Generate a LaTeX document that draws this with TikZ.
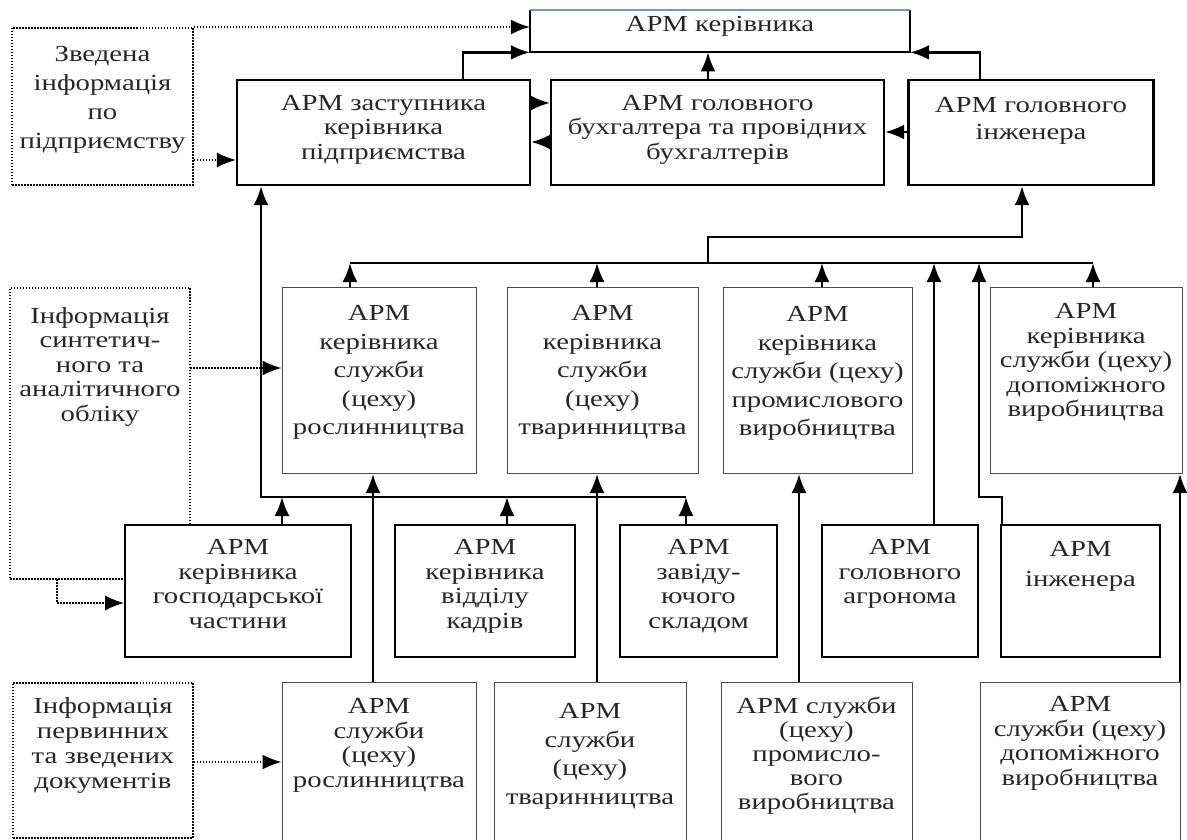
\documentclass[tikz,border=0pt]{standalone}
\usepackage{fontspec}
\setmainfont[FakeStretch=1.25]{Liberation Serif}
\usetikzlibrary{arrows.meta}

\tikzstyle{box}=[anchor=north, align=center, inner xsep=0pt, inner ysep=0pt, text=black!85]
\tikzstyle{chief}=[box, draw, line width=2.2pt]
\tikzstyle{head}=[box, draw=black!70, line width=1pt]
\tikzstyle{dept}=[box, draw, line width=1.8pt]
\tikzstyle{unit}=[box, draw=black!70, line width=1pt]
\tikzstyle{src}=[dash pattern=on 1.5pt off 1.5pt, line width=1.6pt]
\tikzstyle{loose}=[font=\fontsize{23}{28.5}\selectfont]
\tikzstyle{com}=[line width=2.4pt, -{Latex[length=19pt,width=15pt]}]
\tikzstyle{bus}=[line width=1.6pt]
\tikzstyle{feed}=[src, -{Latex[length=19pt,width=15pt]}]

\begin{document}
\begin{tikzpicture}[x=1pt, y=-1pt, every node/.style={font=\fontsize{23}{24.5}\selectfont}]
  \useasboundingbox (0,0) rectangle (1187,840);
  \clip (0,0) rectangle (1187,840);

  % top level
  \node[box, minimum width=380pt, text height=21pt, text depth=21pt] (ker) at (720,10) {АРМ керівника};
  \draw[line width=2.2pt] (ker.north west) -- (ker.south west) -- (ker.south east) -- (ker.north east);
  \draw[line width=1.2pt, color={rgb,255:red,120;green,150;blue,180}] (ker.north west) -- (ker.north east);

  \node[chief, minimum width=293pt, text height=79pt, text depth=26pt] (dep) at (383.5,79) {АРМ заступника\\керівника\\підприємства};
  \node[chief, minimum width=333pt, text height=79pt, text depth=26pt] (acc) at (717.5,79) {АРМ головного\\бухгалтера та провідних\\бухгалтерів};
  \node[chief, minimum width=245pt, text height=59pt, text depth=46pt, font=\fontsize{23}{27}\selectfont] (eng) at (1031,79) {АРМ головного\\інженера};

  % heads of services
  \node[head, loose, minimum width=194pt, text height=147pt, text depth=39pt] (s1) at (379,287) {АРМ\\керівника\\служби\\(цеху)\\рослинництва};
  \node[head, loose, minimum width=191pt, text height=147pt, text depth=39pt] (s2) at (602.5,287) {АРМ\\керівника\\служби\\(цеху)\\тваринництва};
  \node[head, loose, minimum width=189pt, text height=148pt, text depth=38pt] (s3) at (817.5,287) {АРМ\\керівника\\служби (цеху)\\промислового\\виробництва};
  \node[head, minimum width=192pt, text height=129pt, text depth=57pt] (s4) at (1086,287) {АРМ\\керівника\\служби (цеху)\\допоміжного\\виробництва};

  % departments
  \node[dept, minimum width=226pt, text height=103.5pt, text depth=28.5pt] (u1) at (238,524) {АРМ\\керівника\\господарської\\частини};
  \node[dept, minimum width=180pt, text height=103.5pt, text depth=28.5pt] (u2) at (485,524) {АРМ\\керівника\\відділу\\кадрів};
  \node[dept, minimum width=157pt, text height=103.5pt, text depth=28.5pt] (u3) at (698.5,524) {АРМ\\завіду-\\ючого\\складом};
  \node[dept, minimum width=156pt, text height=79pt, text depth=53pt] (u4) at (900,524) {АРМ\\головного\\агронома};
  \node[dept, minimum width=159pt, text height=62pt, text depth=70pt, font=\fontsize{23}{30}\selectfont] (u5) at (1080.5,524) {АРМ\\інженера};

  % services
  \node[unit, minimum width=194pt, text height=104.5pt, text depth=115.5pt] (w1) at (379,682) {АРМ\\служби\\(цеху)\\рослинництва};
  \node[unit, loose, minimum width=192pt, text height=121.5pt, text depth=98.5pt] (w2) at (590,682) {АРМ\\служби\\(цеху)\\тваринництва};
  \node[unit, minimum width=191pt, text height=127pt, text depth=93pt, font=\fontsize{23}{24}\selectfont] (w3) at (816.5,682) {АРМ служби\\(цеху)\\промисло-\\вого\\виробництва};
  \node[unit, minimum width=200pt, text height=102.5pt, text depth=117.5pt] (w4) at (1080,682) {АРМ\\служби (цеху)\\допоміжного\\виробництва};

  % information sources
  \node[box, src, draw, minimum width=181pt, text height=121pt, text depth=36pt, font=\fontsize{23}{29}\selectfont] (i1) at (102.5,27) {Зведена\\інформація\\по\\підприємству};
  \node[box, minimum width=180pt, text height=133pt, text depth=100pt] (i2) at (100,288) {Інформація\\синтетич-\\ного та\\аналітичного\\обліку};
  \draw[src] (u1.north -| i2.east) -- (i2.north east) -- (i2.north west) -- (i2.west |- 0,579) -- (u1.west |- 0,579);
  \node[box, src, draw, minimum width=180pt, text height=106pt, text depth=49pt, font=\fontsize{23}{25}\selectfont] (i3) at (103,682) {Інформація\\первинних\\та зведених\\документів};

  \draw[feed] (i1.north east) -- (i1.north east -| ker.west);
  \draw[feed] (i1.east |- 0,160) -- (dep.west |- 0,160);
  \draw[feed] (i2.east |- 0,368) -- (s1.west |- 0,368);
  \draw[feed] (57,579) |- (u1.west |- 0,603);
  \draw[feed] (i3.east |- 0,762) -- (w1.west |- 0,762);

  % to the top
  \draw[com] (dep.north -| 463,0) |- (ker.south west);
  \draw[com] (acc.north -| 708,0) -- (ker.south -| 708,0);
  \draw[com] (eng.north -| 980,0) |- (ker.south east);
  \draw[com] (dep.east |- 0,103) -- (acc.west |- 0,103);
  \draw[com] (acc.west |- 0,142) -- (dep.east |- 0,142);
  \draw[com] (eng.west |- 0,132) -- (acc.east |- 0,132);

  % upper bus
  \coordinate (upper) at (0,263);
  \coordinate (lower) at (0,497);
  \draw[bus] (upper -| 350,0) -- (upper -| 1093,0);
  \draw[com] (upper -| 708,0) |- (1022,237) -- (eng.south -| 1022,0);
  \draw[com] (s1.north -| 350,0) -- (upper -| 350,0);
  \draw[com] (s2.north -| 597,0) -- (upper -| 597,0);
  \draw[com] (s3.north -| 822,0) -- (upper -| 822,0);
  \draw[com] (s4.north -| 1093,0) -- (upper -| 1093,0);
  \draw[com] (u4.north -| 934,0) -- (upper -| 934,0);
  \draw[com] (u5.north -| 1002,0) |- (lower -| 979,0) -- (upper -| 979,0);

  % lower bus
  \draw[com] (lower -| 686,0) -| (dep.south -| 261,0);
  \draw[com] (u1.north -| 282,0) -- (lower -| 282,0);
  \draw[com] (u2.north -| 507,0) -- (lower -| 507,0);
  \draw[com] (u3.north -| 686,0) -- (lower -| 686,0);

  % services to heads
  \draw[com] (w1.north -| 373,0) -- (s1.south -| 373,0);
  \draw[com] (w2.north -| 597,0) -- (s2.south -| 597,0);
  \draw[com] (w3.north -| 799,0) -- (s3.south -| 799,0);
  \draw[com] (w4.north -| 1180,0) -- (s4.south -| 1180,0);
\end{tikzpicture}
\end{document}
